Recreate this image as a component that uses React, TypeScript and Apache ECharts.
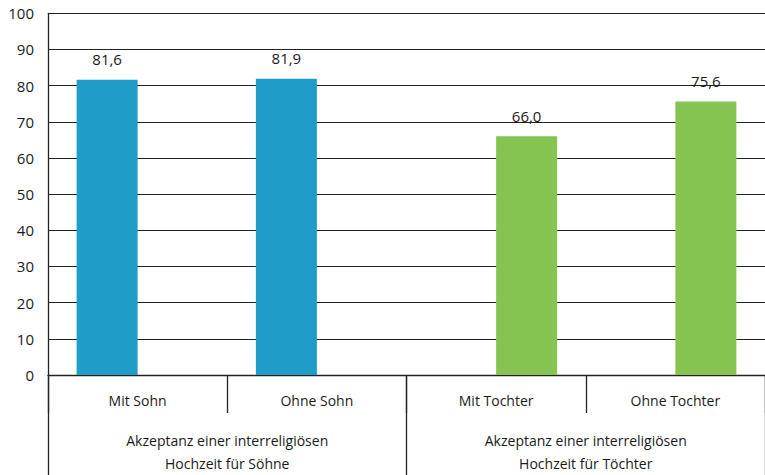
import React, { useEffect, useRef } from "react";
import * as echarts from "echarts";

const categories = ["Mit Sohn", "Ohne Sohn", "Mit Tochter", "Ohne Tochter"];
const groups = [
  "Akzeptanz einer interreligiösen\nHochzeit für Söhne",
  "Akzeptanz einer interreligiösen\nHochzeit für Töchter",
];
const sonValues: (number | string)[] = [81.6, 81.9, "-", "-"];
const daughterValues: (number | string)[] = ["-", "-", 66.0, 75.6];

const FONT = "'Open Sans', 'Noto Sans', sans-serif";
const TEXT = "#1a1a1a";
const LINE = "#222222";

const fmt = (p: any) =>
  typeof p.value === "number" ? p.value.toFixed(1).replace(".", ",") : "";

export default function App() {
  const ref = useRef<HTMLDivElement>(null);
  useEffect(() => {
    if (!ref.current) return;
    const chart = echarts.init(ref.current, undefined, { renderer: "svg" });
    chart.setOption({
      animation: false,
      backgroundColor: "#ffffff",
      textStyle: { fontFamily: FONT },
      grid: { left: 48, width: 724, top: 13.3, bottom: 97.7, containLabel: false },
      xAxis: [
        {
          type: "category",
          data: categories,
          position: "bottom",
          axisLine: { show: true, lineStyle: { color: LINE, width: 1.3 } },
          axisTick: { show: true, interval: 0, length: 38, lineStyle: { color: LINE, width: 1.3 } },
          axisLabel: { interval: 0, margin: 18, color: TEXT, fontSize: 14, fontFamily: FONT },
        },
        {
          type: "category",
          data: groups,
          position: "bottom",
          offset: 0,
          axisLine: { show: false },
          axisTick: { show: true, interval: 0, length: 110, lineStyle: { color: LINE, width: 1.3 } },
          axisLabel: {
            interval: 0,
            margin: 54,
            color: TEXT,
            fontSize: 14,
            lineHeight: 23,
            fontFamily: FONT,
          },
        },
      ],
      yAxis: {
        type: "value",
        min: 0,
        max: 100,
        interval: 10,
        axisLine: { show: true, lineStyle: { color: LINE, width: 1.3 } },
        axisTick: { show: false },
        splitLine: { show: true, lineStyle: { color: LINE, width: 1.2 } },
        axisLabel: { margin: 14, color: TEXT, fontSize: 15, fontFamily: FONT },
      },
      series: [
        {
          type: "bar",
          xAxisIndex: 0,
          data: sonValues,
          barWidth: 61,
          barGap: "0%",
          itemStyle: { color: "#1f9cc8" },
          label: {
            show: true,
            position: "top",
            distance: 13,
            formatter: fmt,
            color: TEXT,
            fontSize: 15,
            fontFamily: FONT,
          },
        },
        {
          type: "bar",
          xAxisIndex: 0,
          data: daughterValues,
          barWidth: 61,
          barGap: "0%",
          itemStyle: { color: "#86c452" },
          label: {
            show: true,
            position: "top",
            distance: 13,
            formatter: fmt,
            color: TEXT,
            fontSize: 15,
            fontFamily: FONT,
          },
        },
      ],
    });
    return () => chart.dispose();
  }, []);
  return (
    <div
      ref={ref}
      style={{ position: "fixed", left: 0, top: 0, width: 765, height: 475, background: "#fff" }}
    />
  );
}
